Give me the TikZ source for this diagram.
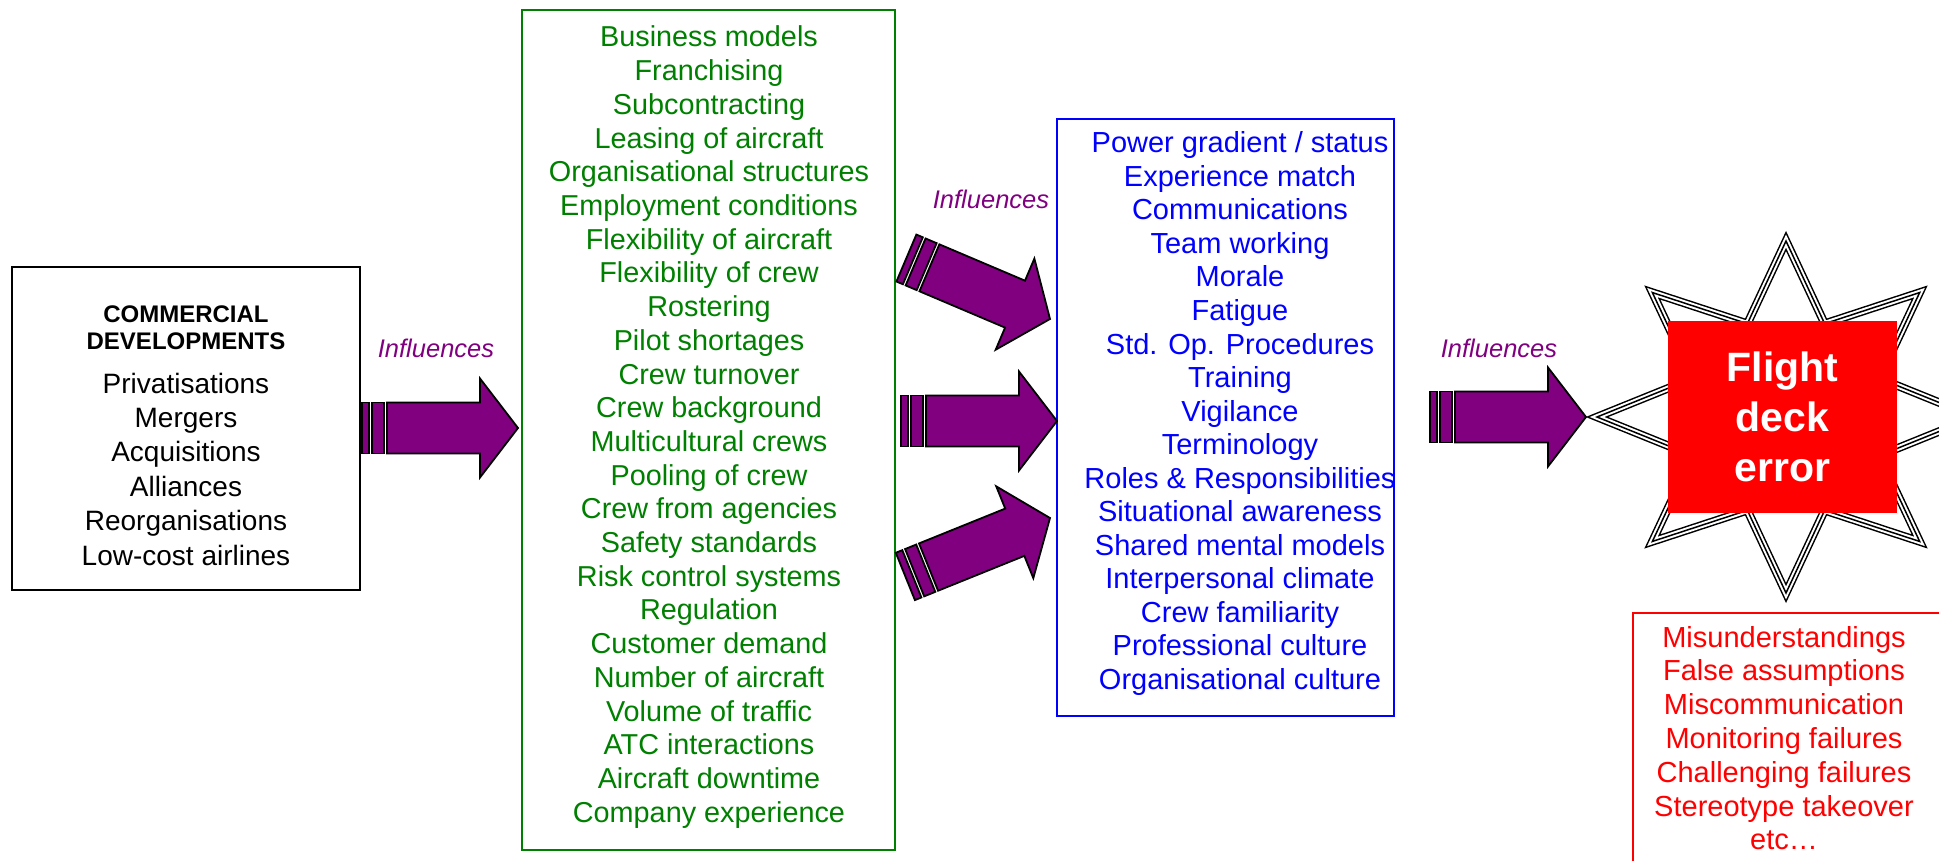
\documentclass[tikz,border=0pt]{standalone}
\usepackage{fontspec}
\setmainfont{Liberation Sans}

\definecolor{factor color}{HTML}{008000}
\definecolor{crew color}{HTML}{0000FF}
\definecolor{error color}{HTML}{FF0000}
\definecolor{influence color}{HTML}{800080}

\tikzset{
    x={1pt},
    y={-1pt},
    list box/.style={
        draw={#1},
        line width={2pt},
        inner sep=0pt,
    },
    list item/.style 2 args={
        anchor=base,
        inner sep=0pt,
        text={#1},
        font={\fontsize{#2}{#2}\selectfont},
    },
    heading/.style={
        anchor=base,
        inner sep=0pt,
        font={\fontsize{24}{28}\selectfont\bfseries},
    },
    influence label/.style={
        anchor=base,
        inner sep=0pt,
        text=influence color,
        font={\fontsize{25.5}{30}\selectfont\itshape},
    },
    influence body/.style={
        fill=influence color,
        draw=black,
        line width={1.8pt},
        line join=miter,
    },
    influence arrow/.pic={
        \path[influence body] (-131,-25.5) -- (-38,-25.5) -- (-38,-49.5) -- (0,0)
            -- (-38,49.5) -- (-38,25.5) -- (-131,25.5) -- cycle;
        \path[influence body] (-146,-25.5) rectangle (-134,25.5);
        \path[influence body] (-156,-25.5) rectangle (-149,25.5);
    },
    error star/.style={
        preaction={draw=black, line width={8.5pt}},
        preaction={draw=white, line width={5.5pt}},
        draw=black,
        line width={1.5pt},
    },
    error box/.style={
        fill=error color,
        inner sep=0pt,
        minimum width={229},
        minimum height={192},
        align=center,
        text=white,
        font={\fontsize{41}{50}\selectfont\bfseries},
    },
}

\begin{document}
\begin{tikzpicture}
% page
\path[fill=white] (0,0) rectangle (1939,861);
\clip (0,0) rectangle (1939,861);
% boxes
\node[list box=black, minimum width={348}, minimum height={323}] (commercial) at (186,428.5) {};
\node[list box=factor color, minimum width={373}, minimum height={840}] (factors) at (708.5,430) {};
\node[list box=crew color, minimum width={337}, minimum height={597}] (crew) at (1225.5,417.5) {};
\node[list box=error color, minimum width={327}, minimum height={287}] (outcomes) at (1796.5,756.5) {};
% commercial developments
\node[heading] (commercial-title-1) at (186,322) {COMMERCIAL};
\node[heading] (commercial-title-2) at (186,349) {DEVELOPMENTS};
\foreach \entry [count=\i] in {Privatisations, Mergers, Acquisitions, Alliances,
    Reorganisations, Low-cost airlines}
    \node[list item={black}{28}] (commercial-\i) at (186,{358.6+34.4*\i}) {\entry};
% organisational factors
\foreach \entry [count=\i] in {Business models, Franchising, Subcontracting,
    Leasing of aircraft, Organisational structures, Employment conditions,
    Flexibility of aircraft, Flexibility of crew, Rostering, Pilot shortages,
    Crew turnover, Crew background, Multicultural crews, Pooling of crew,
    Crew from agencies, Safety standards, Risk control systems, Regulation,
    Customer demand, Number of aircraft, Volume of traffic, ATC interactions,
    Aircraft downtime, Company experience}
    \node[list item={factor color}{28.8}] (factor-\i) at (709,{13.3+33.7*\i}) {\entry};
% crew factors
\foreach \entry [count=\i] in {Power gradient / status, Experience match,
    Communications, Team working, Morale, Fatigue, Std. Op. Procedures, Training,
    Vigilance, Terminology, Roles \& Responsibilities, Situational awareness,
    Shared mental models, Interpersonal climate, Crew familiarity,
    Professional culture, Organisational culture}
    \node[list item={crew color}{29}] (crew-\i) at (1240,{119.5+33.5*\i}) {\entry};
% outcomes
\foreach \entry [count=\i] in {Misunderstandings, False assumptions,
    Miscommunication, Monitoring failures, Challenging failures,
    Stereotype takeover, etc…}
    \node[list item={error color}{29}] (outcome-\i) at (1784,{613.2+33.8*\i}) {\entry};
% influences
\node[influence label] (influence-1) at (436,357) {Influences};
\node[influence label] (influence-2) at (991,209) {Influences};
\node[influence label] (influence-3) at (1499,357) {Influences};
\pic at (518,428) {influence arrow};
\pic[rotate=-23] at (1050,319) {influence arrow};
\pic at (1057,421) {influence arrow};
\pic[rotate=22] at (1050,518) {influence arrow};
\pic at (1586,417) {influence arrow};
% flight deck error
\begin{scope}[shift={(1786,417)}]
\path[error star] (0:189 and 176) \foreach \k in {1,...,7} {
    -- (\k*45-22.5:101) -- (\k*45:189 and 176) } -- (337.5:101) -- cycle;
\end{scope}
\node[error box] (error) at (1782.5,417) {Flight\\deck\\error};
\end{tikzpicture}
\end{document}
